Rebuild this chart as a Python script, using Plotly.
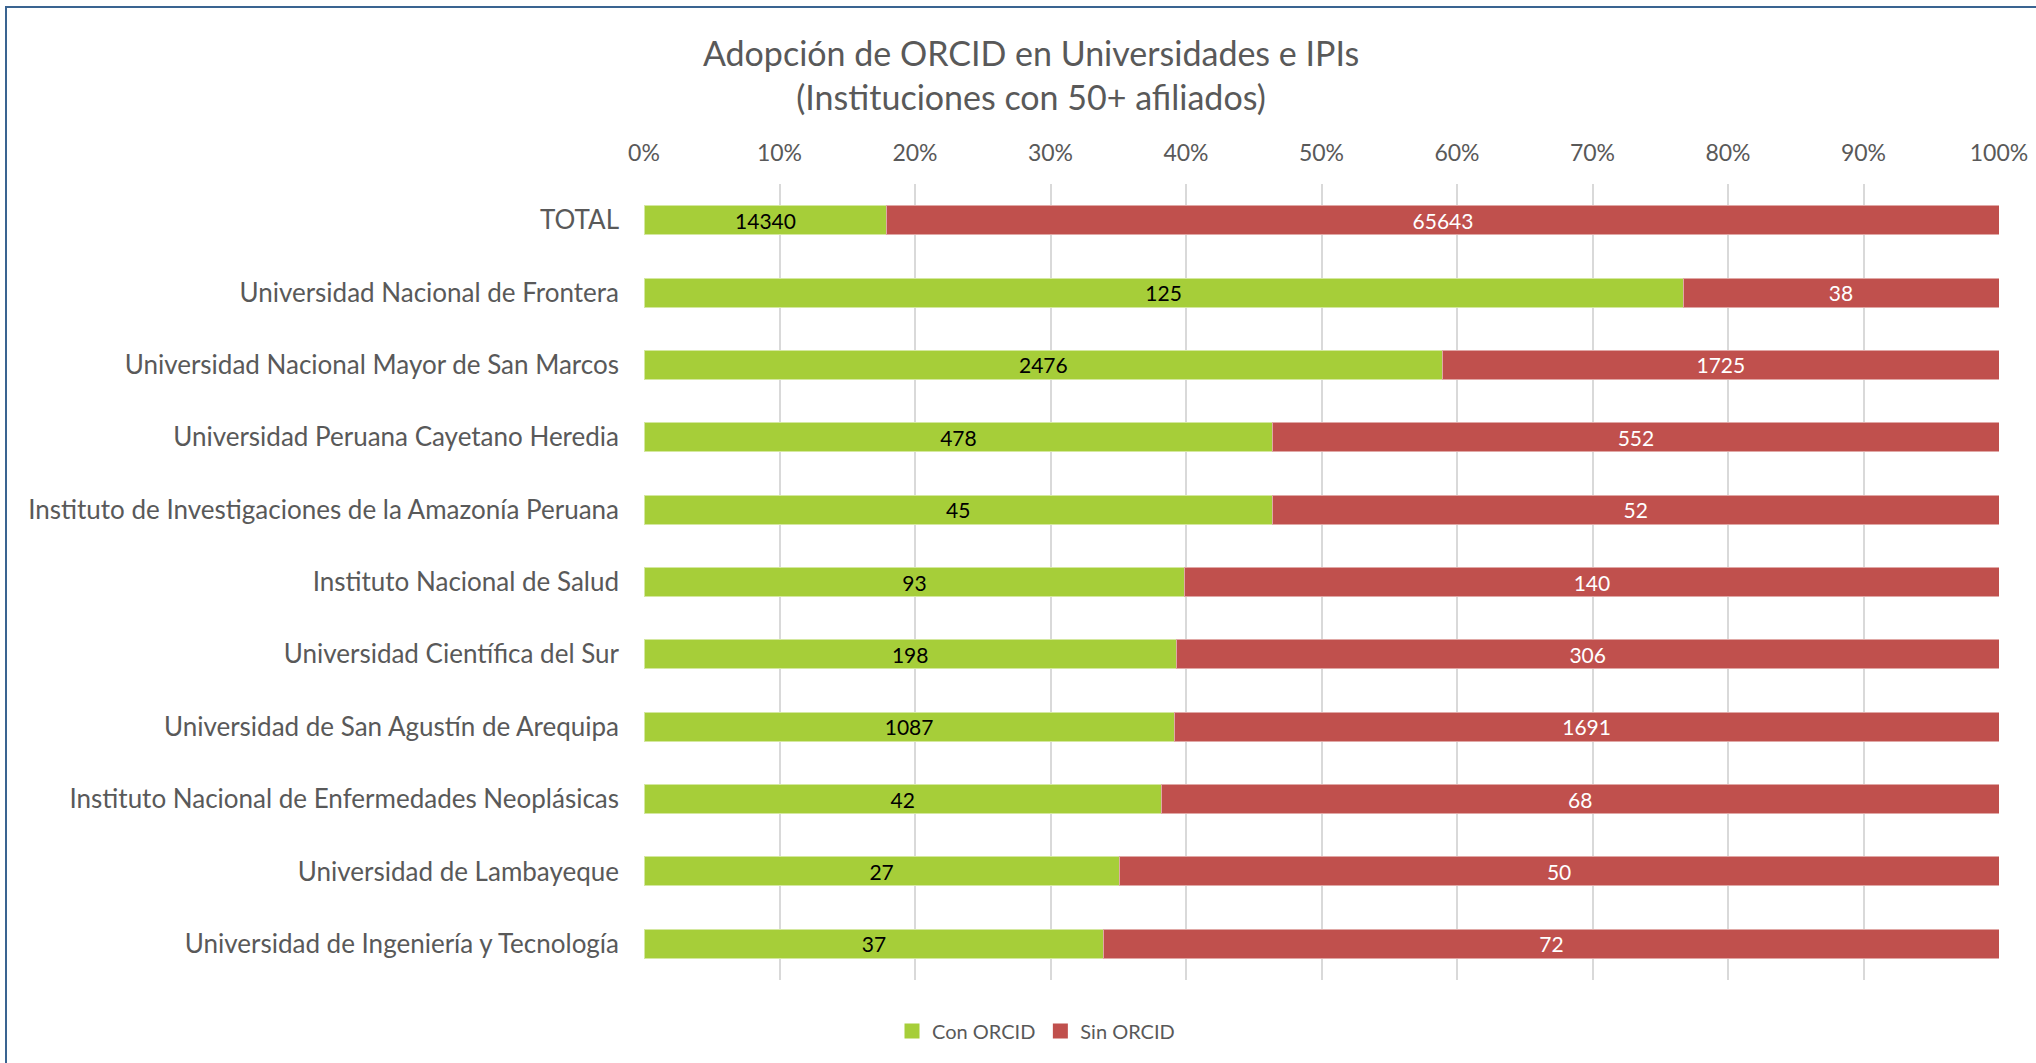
import plotly.graph_objects as go

categories = [
    "TOTAL",
    "Universidad Nacional de Frontera",
    "Universidad Nacional Mayor de San Marcos",
    "Universidad Peruana Cayetano Heredia",
    "Instituto de Investigaciones de la Amazonía Peruana",
    "Instituto Nacional de Salud",
    "Universidad Científica del Sur",
    "Universidad de San Agustín de Arequipa",
    "Instituto Nacional de Enfermedades Neoplásicas",
    "Universidad de Lambayeque",
    "Universidad de Ingeniería y Tecnología",
]
con_orcid = [14340, 125, 2476, 478, 45, 93, 198, 1087, 42, 27, 37]
sin_orcid = [65643, 38, 1725, 552, 52, 140, 306, 1691, 68, 50, 72]

tick_vals = [0, 10, 20, 30, 40, 50, 60, 70, 80, 90, 100]
tick_text = ["0%", "10%", "20%", "30%", "40%", "50%", "60%", "70%", "80%", "90%", "100%"]

FONT = "Lato"
GREEN = "#A6CE39"
RED = "#C0504D"
GREY = "#595959"

W, H = 2036, 1063
PX0, PX1, PY0, PY1 = 644, 1999, 184, 980
L, R = PX0, W - PX1
T, B = PY0, H - PY1
pw, ph = W - L - R, H - T - B


def px(xs):
    return (xs - PX0) / pw


def py(ys):
    return (PY1 - ys) / ph


fig = go.Figure()
fig.add_trace(go.Bar(
    y=categories, x=con_orcid, orientation="h", name="Con ORCID",
    marker=dict(color=GREEN, line=dict(color="#D4E8A0", width=1)),
    text=con_orcid, texttemplate="%{text}", textposition="inside",
    insidetextanchor="middle", textangle=0, constraintext="none",
    showlegend=False,
    textfont=dict(family=FONT, size=21, color="#000000"),
))
fig.add_trace(go.Bar(
    y=categories, x=sin_orcid, orientation="h", name="Sin ORCID",
    marker=dict(color=RED, line=dict(color="#E0A8A6", width=1)),
    text=sin_orcid, texttemplate="%{text}", textposition="inside",
    insidetextanchor="middle", textangle=0, constraintext="none",
    showlegend=False,
    textfont=dict(family=FONT, size=21, color="#FFFFFF"),
))
# legend entries with larger square swatches
for name, col in [("Con ORCID", GREEN), ("Sin ORCID", RED)]:
    fig.add_trace(go.Scatter(
        x=[None], y=[None], mode="markers", name=name,
        marker=dict(symbol="square", size=15, color=col),
        hoverinfo="skip",
    ))

fig.update_layout(
    width=W, height=H,
    barmode="stack", barnorm="percent", bargap=0.6,
    paper_bgcolor="white", plot_bgcolor="white",
    margin=dict(l=L, r=R, t=T, b=B, pad=0, autoexpand=False),
    title=dict(
        text="Adopción de ORCID en Universidades e IPIs<br>(Instituciones con 50+ afiliados)",
        x=1031 / W, xanchor="center", y=1 - 66 / H, yanchor="middle",
        font=dict(family=FONT, size=34, color=GREY),
    ),
    font=dict(family=FONT, color=GREY),
    showlegend=True,
    legend=dict(
        orientation="h", traceorder="normal", x=px(1036), xanchor="center",
        y=py(1031), yanchor="middle",
        font=dict(family=FONT, size=20, color=GREY),
        itemwidth=30, itemsizing="trace",
    ),
)
fig.update_xaxes(
    side="top", range=[0, 100], tickvals=tick_vals, ticktext=tick_text,
    showgrid=True, gridcolor="#D9D9D9", gridwidth=2,
    zeroline=False, showline=False, ticks="",
    tickfont=dict(family=FONT, size=23, color=GREY),
    ticklabelstandoff=17, fixedrange=True, automargin=False,
)
fig.update_yaxes(
    autorange="reversed", showgrid=False, zeroline=False, showline=False,
    ticks="", ticklabelstandoff=24, automargin=False,
    tickfont=dict(family=FONT, size=26, color=GREY),
)

# outer chart frame (left and top edges visible; right/bottom beyond the picture)
fig.add_shape(
    type="rect", xref="paper", yref="paper",
    x0=px(6), x1=px(W + 30),
    y0=py(H + 30), y1=py(7),
    line=dict(color="#3A6491", width=2), fillcolor="rgba(0,0,0,0)", layer="above",
)

fig.write_html(
    "out.html",
    config={"displayModeBar": False},
    post_script="document.body.style.margin='0';document.body.style.overflow='hidden';",
)
